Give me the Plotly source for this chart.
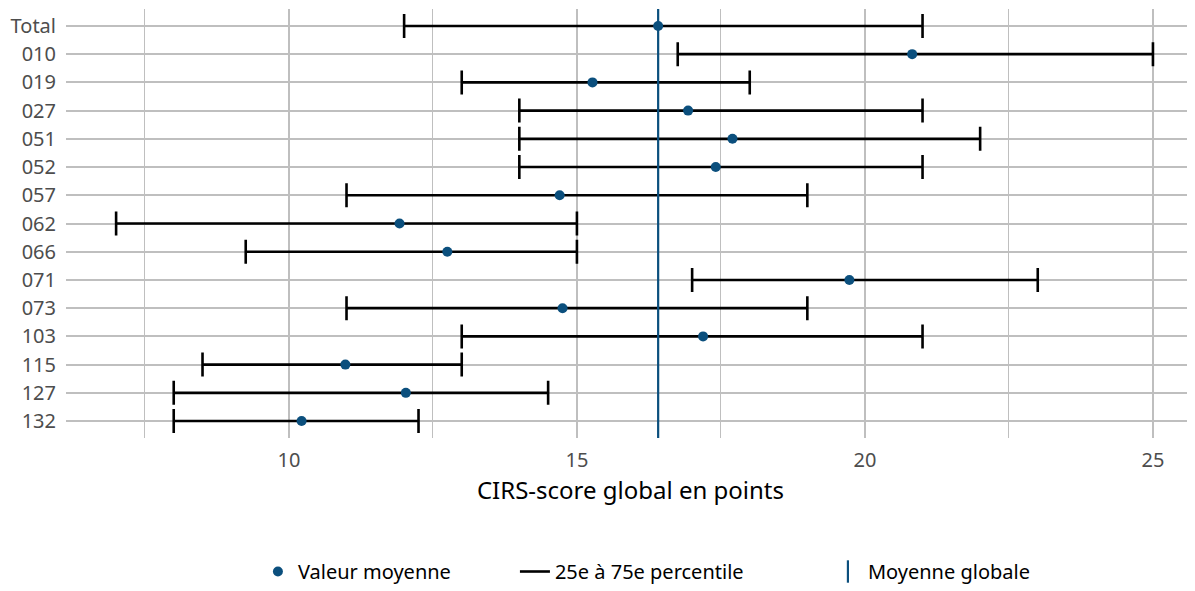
import plotly.graph_objects as go

# données (CIRS-score global)
categories = ["Total", "010", "019", "027", "051", "052", "057", "062",
              "066", "071", "073", "103", "115", "127", "132"]
moyenne = [16.41, 20.82, 15.27, 16.93, 17.70, 17.41, 14.70, 11.92,
           12.75, 19.73, 14.75, 17.19, 10.98, 12.03, 10.22]
p25 = [12, 16.75, 13, 14, 14, 14, 11, 7, 9.25, 17, 11, 13, 8.5, 8, 8]
p75 = [21, 25, 18, 21, 22, 21, 19, 15, 15, 23, 19, 21, 13, 14.5, 12.25]
moyenne_globale = 16.41

BLEU = "#0b4f7d"
GRIS = "#bfbfbf"
POLICE = "Noto Sans"

fig = go.Figure()

# barres 25e-75e percentile (error_x asymétrique autour de la moyenne)
fig.add_trace(go.Scatter(
    x=moyenne, y=categories, mode="markers",
    marker=dict(size=1, opacity=0),
    error_x=dict(type="data", symmetric=False,
                 array=[h - m for h, m in zip(p75, moyenne)],
                 arrayminus=[m - l for l, m in zip(p25, moyenne)],
                 color="black", thickness=2.6, width=12),
    showlegend=False, hoverinfo="skip"
))

# ligne verticale de la moyenne globale
fig.add_trace(go.Scatter(
    x=[moyenne_globale, moyenne_globale], y=[-0.6, 14.6], yaxis="y2",
    mode="lines", line=dict(color=BLEU, width=2.2),
    showlegend=False, hoverinfo="skip"
))

# points des moyennes
fig.add_trace(go.Scatter(
    x=moyenne, y=categories, mode="markers",
    marker=dict(size=10, color=BLEU),
    name="Valeur moyenne", legendrank=1, legendwidth=212
))

# entrées de légende
fig.add_trace(go.Scatter(
    x=[None], y=[None], mode="lines", line=dict(color="black", width=2.6),
    name="25e à 75e percentile", legendrank=2, legendwidth=268
))
fig.add_trace(go.Scatter(
    x=[None], y=[None], mode="markers",
    marker=dict(symbol="line-ns-open", size=40, color=BLEU,
                line=dict(color=BLEU, width=2.2)),
    name="Moyenne globale", legendrank=3
))

# la page ajoute 8 px de marge autour de la figure
fig.update_layout(
    width=1187, height=583,
    margin=dict(l=58, r=0, t=1, b=153),
    plot_bgcolor="white", paper_bgcolor="white",
    font=dict(family=POLICE, size=20, color="#4d4d4d"),
    xaxis=dict(
        range=[6.13, 25.73], tickvals=[10, 15, 20, 25],
        showgrid=True, gridcolor=GRIS, gridwidth=2,
        zeroline=False, showline=False, ticks="", automargin=False,
        ticklabelstandoff=8,
        tickfont=dict(size=20, color="#4d4d4d"),
        title=dict(text="CIRS-score global en points",
                   font=dict(size=24, color="black"), standoff=0),
        minor=dict(tickvals=[7.5, 12.5, 17.5, 22.5], showgrid=True,
                   gridcolor=GRIS, gridwidth=1.2),
    ),
    yaxis=dict(
        type="category", categoryorder="array", categoryarray=categories,
        range=[14.6, -0.6], showgrid=True, gridcolor=GRIS, gridwidth=2,
        zeroline=False, ticks="", ticklabelstandoff=9, automargin=False,
        tickfont=dict(size=20, color="#4d4d4d"),
    ),
    yaxis2=dict(overlaying="y", range=[14.6, -0.6], visible=False),
    legend=dict(orientation="h", x=0.17, xanchor="left", y=-0.312,
                yanchor="middle", font=dict(size=20, color="black"),
                traceorder="normal"),
)

fig.write_html("out.html")
